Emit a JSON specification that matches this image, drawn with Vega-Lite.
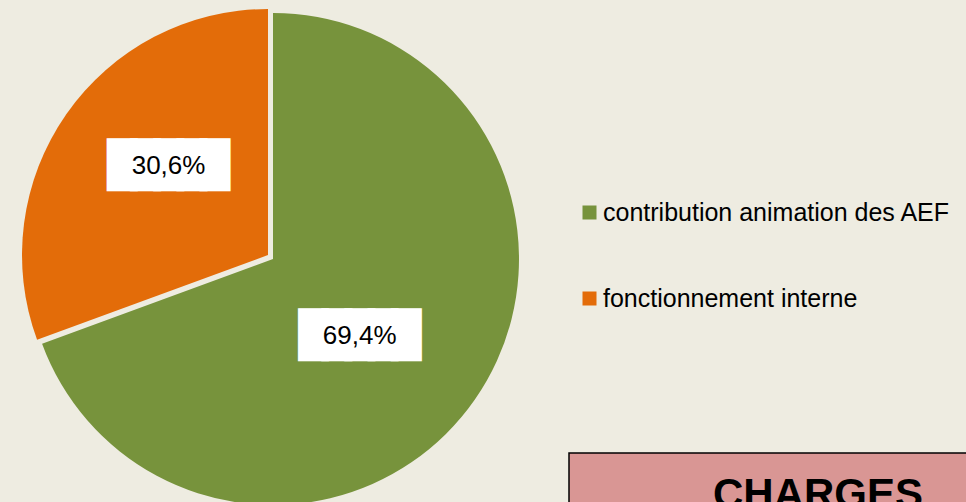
{
  "$schema": "https://vega.github.io/schema/vega-lite/v6.json",
  "autosize": {"type": "none", "contains": "padding"},
  "params": [{"name": "width", "value": 966}, {"name": "height", "value": 502}],
  "padding": {"top": 16, "left": 0, "right": -23, "bottom": -11},
  "background": "#EEECE1",
  "config": {"view": {"stroke": null}, "font": "Liberation Sans"},
  "datasets": {
    "shares": [
      {"cat": "contribution animation des AEF", "value": 69.4, "label": "69,4%"},
      {"cat": "fonctionnement interne", "value": 30.6, "label": "30,6%"}
    ]
  },
  "spacing": 23,
  "bounds": "flush",
  "hconcat": [
    {
      "width": 546,
      "height": 486,
      "data": {"name": "shares"},
      "encoding": {
        "theta": {"field": "value", "type": "quantitative", "stack": true},
        "order": {"field": "value", "type": "quantitative", "sort": "descending"}
      },
      "layer": [
        {
          "mark": {"type": "arc", "radius": 246},
          "encoding": {
            "color": {"field": "cat", "type": "nominal",
              "scale": {"domain": ["contribution animation des AEF", "fonctionnement interne"], "range": ["#77933C", "#E36C09"]},
              "legend": {"orient": "none", "legendX": 577, "legendY": 184, "title": null, "symbolType": "square", "symbolSize": 196, "symbolStrokeWidth": 0, "symbolOpacity": 1, "labelFontSize": 25, "labelFont": "Liberation Sans", "labelColor": "#000000", "labelOffset": 1, "rowPadding": 60, "padding": 0, "labelLimit": 0}},
            "opacity": {"condition": {"test": "datum.cat === 'contribution animation des AEF'", "value": 1}, "value": 0}
          }
        },
        {
          "mark": {"type": "arc", "radius": 246, "xOffset": -5, "yOffset": -4},
          "encoding": {
            "color": {"field": "cat", "type": "nominal"},
            "opacity": {"condition": {"test": "datum.cat === 'fonctionnement interne'", "value": 1}, "value": 0}
          }
        },
        {
          "mark": {"type": "text", "radius": 116, "font": "DejaVu Sans Mono", "fontSize": 38.5, "fill": "#FFFFFF", "stroke": "#FFFFFF", "strokeWidth": 7.2, "baseline": "middle", "align": "center"},
          "encoding": {
            "theta": {"field": "value", "type": "quantitative", "stack": true, "bandPosition": 0.527},
            "text": {"value": "█████"},
            "opacity": {"condition": {"test": "datum.cat === 'contribution animation des AEF'", "value": 1}, "value": 0}
          }
        },
        {
          "mark": {"type": "text", "radius": 140, "font": "DejaVu Sans Mono", "fontSize": 38.5, "fill": "#FFFFFF", "stroke": "#FFFFFF", "strokeWidth": 7.2, "baseline": "middle", "align": "center"},
          "encoding": {
            "theta": {"field": "value", "type": "quantitative", "stack": true, "bandPosition": 0.562},
            "text": {"value": "█████"},
            "opacity": {"condition": {"test": "datum.cat === 'fonctionnement interne'", "value": 1}, "value": 0}
          }
        },
        {
          "mark": {"type": "text", "radius": 116, "fontSize": 26, "font": "Liberation Sans", "color": "#000000", "baseline": "middle", "align": "center"},
          "encoding": {
            "theta": {"field": "value", "type": "quantitative", "stack": true, "bandPosition": 0.527},
            "text": {"field": "label"},
            "opacity": {"condition": {"test": "datum.cat === 'contribution animation des AEF'", "value": 1}, "value": 0}
          }
        },
        {
          "mark": {"type": "text", "radius": 140, "fontSize": 26, "font": "Liberation Sans", "color": "#000000", "baseline": "middle", "align": "center"},
          "encoding": {
            "theta": {"field": "value", "type": "quantitative", "stack": true, "bandPosition": 0.562},
            "text": {"field": "label"},
            "opacity": {"condition": {"test": "datum.cat === 'fonctionnement interne'", "value": 1}, "value": 0}
          }
        }
      ]
    },
    {
      "spacing": 0,
      "bounds": "flush",
      "vconcat": [
        {
          "width": 420,
          "height": 437,
          "data": {"values": [{}]},
          "mark": {"type": "text"},
          "encoding": {"text": {"value": ""}}
        },
        {
          "width": 420,
          "height": 60,
          "view": {"fill": "#D99694", "stroke": "#000000", "strokeWidth": 1.5},
          "data": {"values": [{"title": "CHARGES"}]},
          "mark": {"type": "text", "fontSize": 42, "fontWeight": "bold", "font": "Liberation Sans", "color": "#000000", "baseline": "alphabetic", "align": "center", "dx": 39, "dy": 25},
          "encoding": {"text": {"field": "title"}}
        }
      ]
    }
  ]
}
